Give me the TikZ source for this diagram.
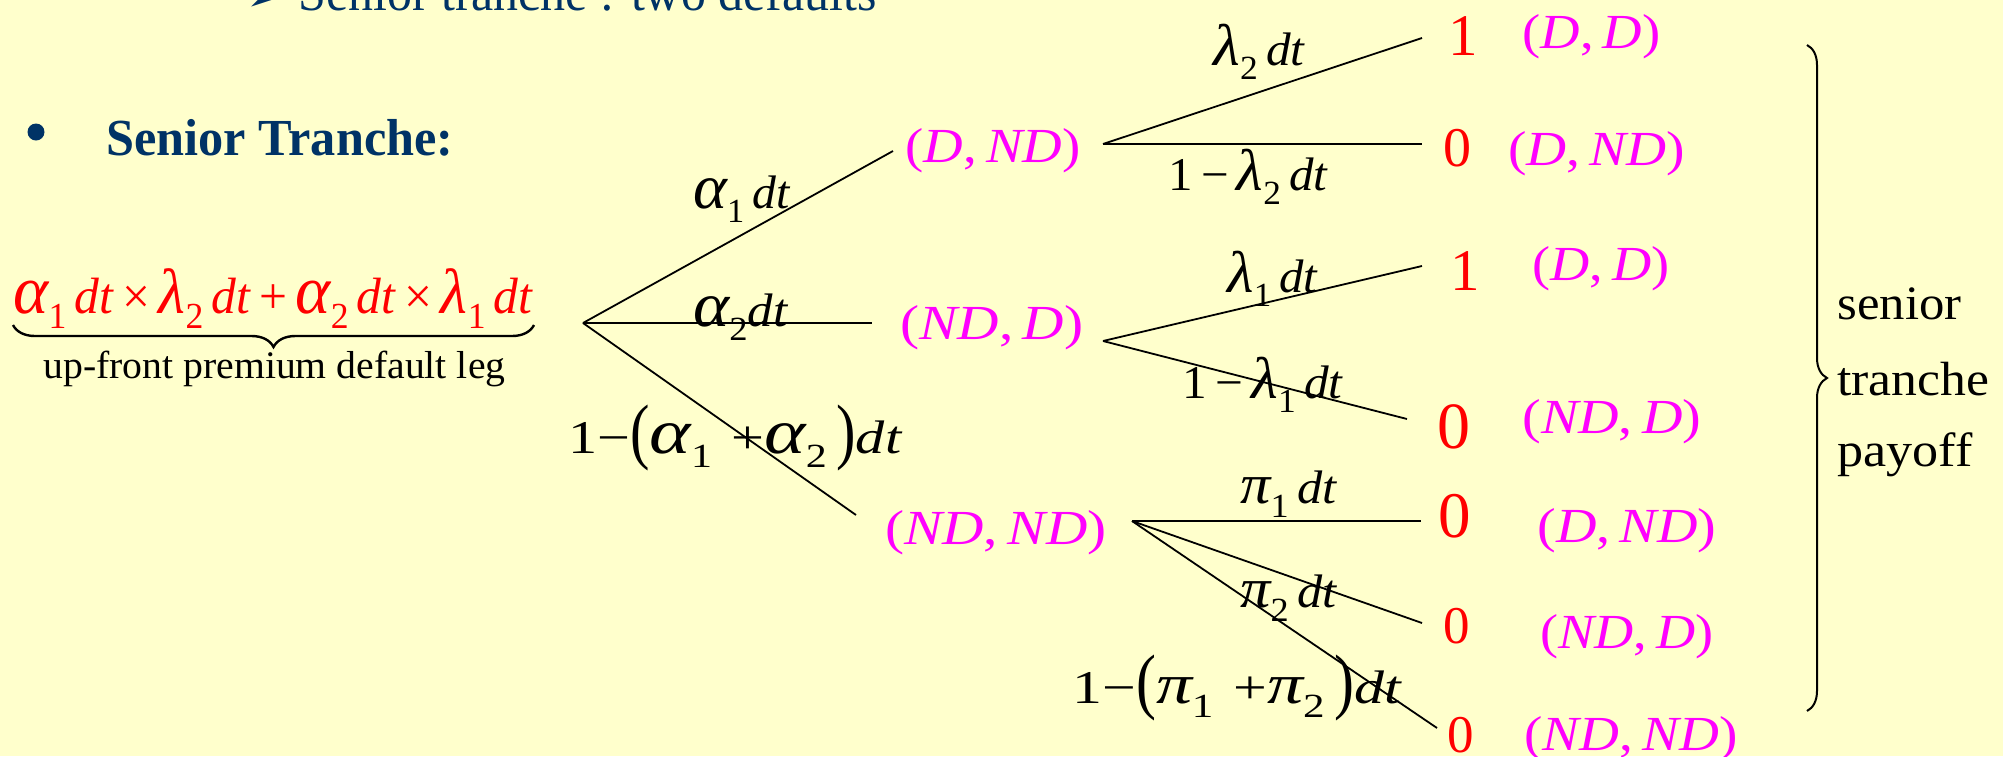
\documentclass[tikz,border=0pt]{standalone}
\usepackage{fontspec}
\setmainfont{Liberation Serif}
\newfontfamily\djv{DejaVu Sans}
\usepackage{graphicx}
\usetikzlibrary{decorations.pathreplacing}
\definecolor{bg}{RGB}{255,255,204}
\definecolor{navy}{RGB}{0,51,102}
\definecolor{mag}{RGB}{255,0,255}
\definecolor{rd}{RGB}{255,0,0}
\newcommand\gk[2]{\scalebox{#1}{\itshape #2}}
\newcommand\ga{\gk{1.35}{α}}
\newcommand\gl{\gk{1.25}{λ}}
\newcommand\gp{\gk{1.2}{π}}
\newcommand\sbi[1]{\raisebox{-0.3em}{\scalebox{0.72}{\upshape #1}}}
\newcommand\dt{\textit{dt}}
\newcommand\fw[2]{\resizebox{#1}{\height}{#2}}
\newcommand\bp[1]{\raisebox{-0.06em}{\scalebox{1}[1.55]{#1}}}
\newcommand\mgl[2]{{\upshape(}\textit{#1}{\upshape,}\,\textit{#2}{\upshape)}}
\begin{document}
\begin{tikzpicture}[x=0.5pt,y=-0.5pt,
  txt/.style={inner sep=0pt, anchor=base west},
  lb/.style={txt, font=\fontsize{23.5}{28}\selectfont},
  mg/.style={txt, text=mag, font=\fontsize{24.5}{29}\selectfont},
  num/.style={txt, text=rd},
  navytxt/.style={txt, text=navy},
  branch/.style={line width=0.9pt},
  brc/.style={decorate, decoration={brace, amplitude=#1}}]
\fill[bg] (0,0) rectangle (2003,756);
\useasboundingbox (0,0) rectangle (2003,756);

% heading texts
\node[navytxt, font=\fontsize{18}{20}\selectfont\djv] (arr) at (247,10) {➢};
\node[navytxt, font=\fontsize{26}{30}\selectfont] (top) at (298,10) {\fw{289pt}{Senior tranche : two defaults}};
\fill[navy] (36,132) circle (8.5);
\node[navytxt, font=\fontsize{26}{30}\selectfont\bfseries] (st) at (106,155) {\fw{173.5pt}{Senior Tranche:}};

% formula
\node[txt, text=rd, font=\fontsize{25.5}{30}\selectfont] (formula) at (13,313)
  {\fw{260pt}{\ga\sbi{1}\,\dt\,×\,\gl\sbi{2}\,\dt\,+\,\ga\sbi{2}\,\dt\,×\,\gl\sbi{1}\,\dt}};
\draw[brc=11pt, line width=1.2pt] (534,325) -- (13,325);
\node[txt, font=\fontsize{19.5}{23}\selectfont] (cap) at (43,378) {\fw{231pt}{up-front premium default leg}};

% tree points
\coordinate (root) at (583,323);
\coordinate (aIn) at (893,151);
\coordinate (bIn) at (872,323);
\coordinate (cIn) at (856,515);
\coordinate (aOut) at (1103,144);
\coordinate (bOut) at (1103,341);
\coordinate (cOut) at (1132,521);
\coordinate (a1) at (1422,38);
\coordinate (a2) at (1422,144);
\coordinate (b1) at (1422,266);
\coordinate (b2) at (1407,419);
\coordinate (c1) at (1421,521);
\coordinate (c2) at (1422,623);
\coordinate (c3) at (1437,728);

\draw[branch] (root) -- (aIn);
\draw[branch] (root) -- (bIn);
\draw[branch] (root) -- (cIn);
\draw[branch] (aOut) -- (a1);
\draw[branch] (aOut) -- (a2);
\draw[branch] (bOut) -- (b1);
\draw[branch] (bOut) -- (b2);
\draw[branch] (cOut) -- (c1);
\draw[branch] (cOut) -- (c2);
\draw[branch] (cOut) -- (c3);

% branch labels
\node[lb] (la1) at (693,208) {\fw{48.5pt}{\ga\sbi{1}\,\dt}};
\node[lb] (la2) at (693,326) {\fw{47.5pt}{\ga\sbi{2}\dt}};
\node[lb] (la3) at (568,453) {\fw{167pt}{1−\bp{(}\ga\sbi{1}\,\,+\ga\sbi{2}\,\bp{)}\dt}};
\node[lb] (ll2) at (1213,65) {\fw{46pt}{\gl\sbi{2}\,\dt}};
\node[lb] (ll2b) at (1168,190) {\fw{80pt}{1\,−\,\gl\sbi{2}\,\dt}};
\node[lb] (ll1) at (1227,292) {\fw{45.5pt}{\gl\sbi{1}\,\dt}};
\node[lb] (ll1b) at (1182,398) {\fw{80.5pt}{1\,−\,\gl\sbi{1}\,\dt}};
\node[lb] (lp1) at (1240,503) {\fw{48.5pt}{\gp\sbi{1}\,\dt}};
\node[lb] (lp2) at (1240,607) {\fw{48.5pt}{\gp\sbi{2}\,\dt}};
\node[lb] (lp3) at (1072,703) {\fw{165pt}{1−\bp{(}\gp\sbi{1}\,\,+\gp\sbi{2}\,\bp{)}\dt}};

% state nodes
\node[mg] (sDND) at (905,162) {\fw{87.5pt}{\mgl{D}{ND}}};
\node[mg] (sNDD) at (900,339) {\fw{91.5pt}{\mgl{ND}{D}}};
\node[mg] (sNDND) at (885,544) {\fw{110.5pt}{\mgl{ND}{ND}}};
\node[mg] (e1) at (1522,48) {\fw{69pt}{\mgl{D}{D}}};
\node[mg] (e2) at (1508,165) {\fw{88.5pt}{\mgl{D}{ND}}};
\node[mg] (e3) at (1532,280) {\fw{68.5pt}{\mgl{D}{D}}};
\node[mg] (e4) at (1522,433) {\fw{89.5pt}{\mgl{ND}{D}}};
\node[mg] (e5) at (1537,542) {\fw{89.5pt}{\mgl{D}{ND}}};
\node[mg] (e6) at (1540,648) {\fw{86.5pt}{\mgl{ND}{D}}};
\node[mg] (e7) at (1524,750) {\fw{106.5pt}{\mgl{ND}{ND}}};

% payoffs
\node[num, font=\fontsize{29.5}{32}\selectfont] (p1) at (1448,55) {1};
\node[num, font=\fontsize{28}{32}\selectfont] (p2) at (1443,166) {0};
\node[num, font=\fontsize{29.5}{32}\selectfont] (p3) at (1450,290) {1};
\node[num, font=\fontsize{33}{36}\selectfont] (p4) at (1437,448) {0};
\node[num, font=\fontsize{32.5}{36}\selectfont] (p5) at (1438,537) {0};
\node[num, font=\fontsize{26.5}{30}\selectfont] (p6) at (1443,643) {0};
\node[num, font=\fontsize{26.5}{30}\selectfont] (p7) at (1447,752) {0};

% right brace
\draw[brc=10pt, line width=1pt] (1807,45) -- (1807,711);
\node[txt, font=\fontsize{24}{28}\selectfont] (t1) at (1837,319) {\fw{62pt}{senior}};
\node[txt, font=\fontsize{24}{28}\selectfont] (t2) at (1837,395) {\fw{76pt}{tranche}};
\node[txt, font=\fontsize{24}{28}\selectfont] (t3) at (1837,466) {\fw{67.5pt}{payoff}};
\end{tikzpicture}
\end{document}
